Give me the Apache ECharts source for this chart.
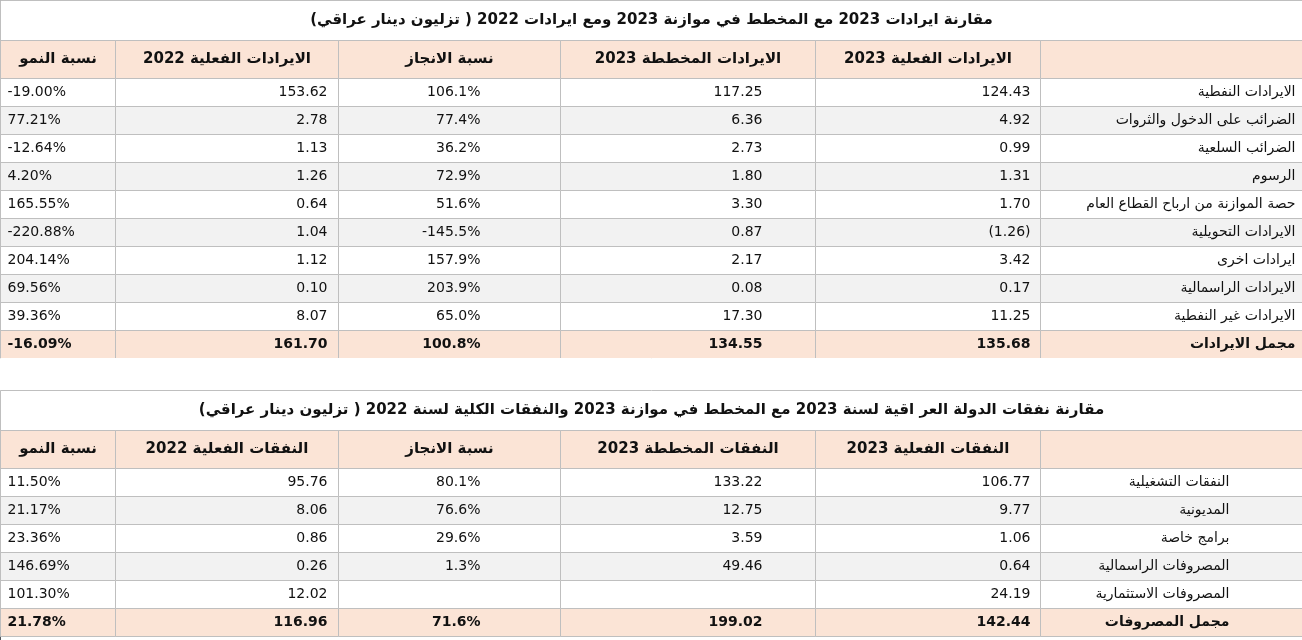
<!DOCTYPE html>
<html><head><meta charset="utf-8">
<script src="https://cdn.jsdelivr.net/npm/echarts@6/dist/echarts.min.js"></script>
<style>html,body{margin:0;padding:0;background:#fff}#main{width:1302px;height:640px}</style>
</head><body><div id="main"></div>
<script>
var title1 = 'مقارنة ايرادات 2023 مع المخطط في موازنة 2023 ومع ايرادات 2022 ( تزليون دينار عراقي)';
var head1 = ['نسبة النمو', 'الايرادات الفعلية 2022', 'نسبة الانجاز', 'الايرادات المخططة 2023', 'الايرادات الفعلية 2023', ''];
var rows1 = ['الايرادات النفطية', 'الضرائب على الدخول والثروات', 'الضرائب السلعية', 'الرسوم', 'حصة الموازنة من ارباح القطاع العام', 'الايرادات التحويلية', 'ايرادات اخرى', 'الايرادات الراسمالية', 'الايرادات غير النفطية', 'مجمل الايرادات'];
var actual23 = ['124.43', '4.92', '0.99', '1.31', '1.70', '(1.26)', '3.42', '0.17', '11.25', '135.68'];
var planned23 = ['117.25', '6.36', '2.73', '1.80', '3.30', '0.87', '2.17', '0.08', '17.30', '134.55'];
var achieve1 = ['106.1%', '77.4%', '36.2%', '72.9%', '51.6%', '-145.5%', '157.9%', '203.9%', '65.0%', '100.8%'];
var actual22 = ['153.62', '2.78', '1.13', '1.26', '0.64', '1.04', '1.12', '0.10', '8.07', '161.70'];
var growth1 = ['-19.00%', '77.21%', '-12.64%', '4.20%', '165.55%', '-220.88%', '204.14%', '69.56%', '39.36%', '-16.09%'];

var title2 = 'مقارنة نفقات الدولة العر اقية لسنة 2023 مع المخطط في موازنة 2023 والنفقات الكلية لسنة 2022 ( تزليون دينار عراقي)';
var head2 = ['نسبة النمو', 'النفقات الفعلية 2022', 'نسبة الانجاز', 'النفقات المخططة 2023', 'النفقات الفعلية 2023', ''];
var rows2 = ['النفقات التشغيلية', 'المديونية', 'برامج خاصة', 'المصروفات الراسمالية', 'المصروفات الاستثمارية', 'مجمل المصروفات'];
var exp23 = ['106.77', '9.77', '1.06', '0.64', '24.19', '142.44'];
var expPlan23 = ['133.22', '12.75', '3.59', '49.46', '', '199.02'];
var achieve2 = ['80.1%', '76.6%', '29.6%', '1.3%', '', '71.6%'];
var exp22 = ['95.76', '8.06', '0.86', '0.26', '12.02', '116.96'];
var growth2 = ['11.50%', '21.17%', '23.36%', '146.69%', '101.30%', '21.78%'];

var colW = [115, 223, 222, 255, 225, 262];
var colPad = [4, 8, 77, 50, 7, 4];
var colAlign = ['left', 'right', 'right', 'right', 'right', 'right'];
var font = 'DejaVu Sans';
var pink = '#fbe4d6';

var rowSizes = [];
var cells = [];
var r = 0;
function addTable(title, head, labels, cols, labelPad) {
  rowSizes.push(40);
  cells.push({ coord: [['c0', 'c5'], 'r' + r], mergeCells: true, value: title,
    label: { fontSize: 15, fontWeight: 'bold', fontFamily: font, color: '#111', overflow: 'none', width: 1200 },
    itemStyle: { color: '#fff' } });
  r++;
  rowSizes.push(38);
  head.forEach(function (h, i) {
    cells.push({ coord: ['c' + i, 'r' + r], value: h,
      label: { fontSize: 15, fontWeight: 'bold', fontFamily: font, color: '#111', overflow: 'none', width: 400 },
      itemStyle: { color: pink } });
  });
  r++;
  labels.forEach(function (lab, j) {
    rowSizes.push(28);
    var total = j === labels.length - 1;
    var bg = total ? pink : (j % 2 === 1 ? '#f2f2f2' : '#fff');
    var vals = [cols[4][j], cols[3][j], cols[2][j], cols[1][j], cols[0][j], lab];
    vals.forEach(function (v, i) {
      var pad = i === 5 ? labelPad : colPad[i];
      var dx = colW[i] / 2 - pad;
      cells.push({ coord: ['c' + i, 'r' + r], value: v,
        label: { fontSize: 14, fontFamily: font, color: '#111', fontWeight: total ? 'bold' : 'normal',
          align: colAlign[i], offset: [colAlign[i] === 'left' ? -dx : dx, 0], overflow: 'none', width: 400 },
        itemStyle: { color: bg } });
    });
    r++;
  });
}
addTable(title1, head1, rows1, [actual23, planned23, achieve1, actual22, growth1], 4);
rowSizes.push(32);
cells.push({ coord: [['c0', 'c5'], 'r' + r], mergeCells: true, value: '', itemStyle: { color: '#fff', borderColor: '#fff' } });
r++;
addTable(title2, head2, rows2, [exp23, expPlan23, achieve2, exp22, growth2], 70);

var myChart = echarts.init(document.getElementById('main'));
var option = {
  backgroundColor: '#fff',
  matrix: {
    left: 0, top: 0, width: 1302, height: 640,
    x: { show: false, data: colW.map(function (w, i) { return { value: 'c' + i, size: w }; }) },
    y: { show: false, data: rowSizes.map(function (h, i) { return { value: 'r' + i, size: h }; }) },
    body: {
      itemStyle: { borderColor: '#bfbfbf', borderWidth: 1 },
      label: { show: true },
      data: cells
    }
  }
};
myChart.setOption(option);
</script>
</body></html>
